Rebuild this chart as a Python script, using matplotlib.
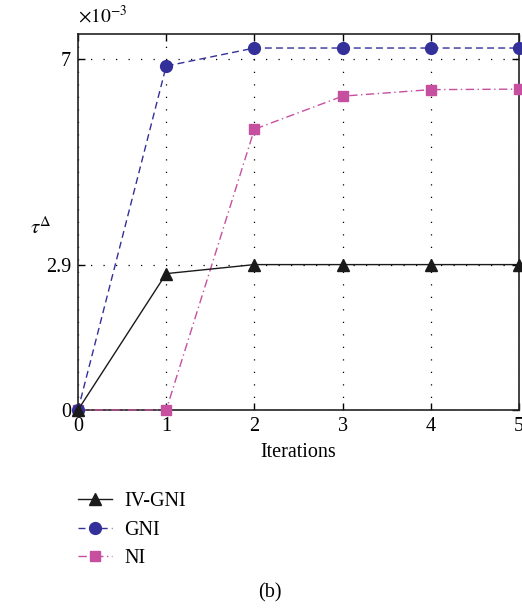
import matplotlib.pyplot as plt
import numpy as np

plt.rcParams['font.family'] = ['Liberation Serif', 'DejaVu Serif']
plt.rcParams['mathtext.fontset'] = 'stix'

# tau values per iteration, in units of 1e-3
iterations = [0, 1, 2, 3, 4, 5]
iv_gni = [0, 2.72, 2.9, 2.9, 2.9, 2.9]
gni = [0, 6.86, 7.22, 7.22, 7.22, 7.22]
ni = [0, 0, 5.6, 6.26, 6.39, 6.4]
y_ticks = [0, 2.9, 7]
y_ticklabels = ['0', '2.9', '7']

fs = 14.5

fig = plt.figure(figsize=(5.22, 6.08), dpi=100)
ax = fig.add_axes([0.1494, 0.3257, 0.845, 0.6184])

ax.plot(iterations, iv_gni, color='#1a1a1a', lw=1.0, ls='-', marker='^',
        ms=9, label='IV-GNI', clip_on=False, zorder=5)
ax.plot(iterations, gni, color='#33309a', lw=1.0, ls=(0, (5, 3)), marker='o',
        ms=8.5, label='GNI', clip_on=False, zorder=4)
ax.plot(iterations, ni, color='#c64f9f', lw=1.0, ls=(0, (6, 2.5, 1, 2.5)), marker='s',
        ms=7, label='NI', clip_on=False, zorder=3)

ax.set_xlim(0, 5)
ax.set_ylim(0, 7.5)
ax.set_xticks(iterations)
ax.set_yticks(y_ticks)
ax.set_yticklabels(y_ticklabels)
ax.grid(True, color='black', lw=0.9, ls=(0, (1, 9)))
ax.tick_params(direction='in', length=5, width=1, labelsize=fs,
               top=True, right=True, pad=5)
for s in ax.spines.values():
    s.set_linewidth(1.2)
    s.set_color('#222222')

ax.set_xlabel('Iterations', fontsize=fs, labelpad=5)
ax.set_ylabel(r'$\tau^{\Delta}$', fontsize=15, rotation=0)
ax.yaxis.set_label_coords(-0.085, 0.455)
ax.text(0.0, 1.02, r'$\times10^{-3}$', transform=ax.transAxes, fontsize=14,
        ha='left', va='bottom')

fig.legend(loc='upper left', bbox_to_anchor=(0.149, 0.191), frameon=False,
           fontsize=fs, handlelength=1.7, handletextpad=0.6, labelspacing=0.48,
           borderaxespad=0, borderpad=0)

fig.text(0.517, 0.025, '(b)', fontsize=fs, ha='center', va='center')

fig.savefig('out.png', dpi=100)
